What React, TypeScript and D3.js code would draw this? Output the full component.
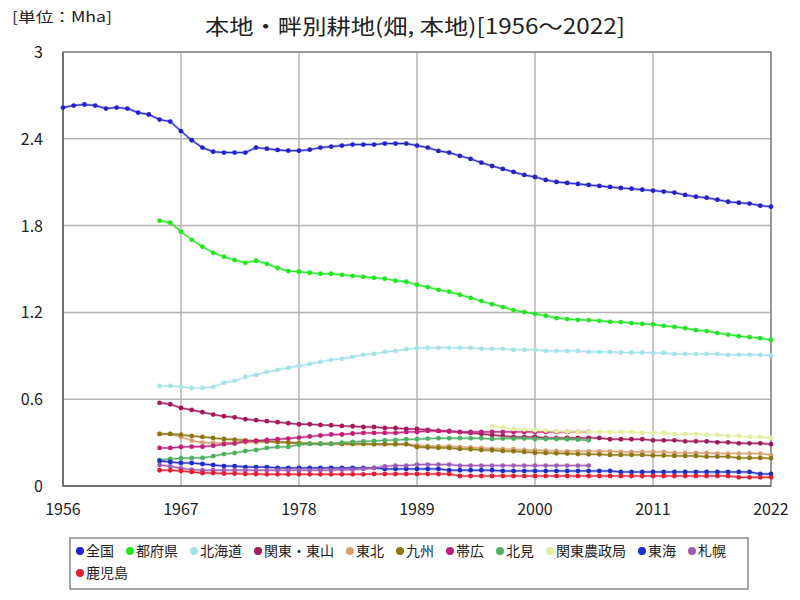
import * as d3 from 'd3';

// values in Mha
const years = d3.range(1956, 2023);

const zenkoku = [2.616, 2.630, 2.637, 2.630, 2.609, 2.616, 2.609, 2.581, 2.568,
  2.533, 2.519, 2.453, 2.390, 2.339, 2.311, 2.305, 2.305, 2.305, 2.339,
  2.332, 2.323, 2.318, 2.318, 2.325, 2.339, 2.346, 2.353, 2.360, 2.360,
  2.360, 2.367, 2.367, 2.367, 2.353, 2.339, 2.316, 2.305, 2.282, 2.261,
  2.235, 2.212, 2.192, 2.171, 2.150, 2.136, 2.116, 2.102, 2.095, 2.088,
  2.081, 2.074, 2.067, 2.060, 2.055, 2.048, 2.042, 2.035, 2.028, 2.012,
  2.000, 1.993, 1.979, 1.965, 1.958, 1.952, 1.938, 1.931];

const tofuken = [1.834, 1.820, 1.758, 1.702, 1.654, 1.612, 1.585, 1.562, 1.543, 1.557,
  1.536, 1.507, 1.486, 1.481, 1.474, 1.467, 1.467, 1.460, 1.453, 1.446,
  1.439, 1.433, 1.419, 1.412, 1.391, 1.375, 1.356, 1.343, 1.322, 1.301,
  1.278, 1.257, 1.237, 1.216, 1.202, 1.190, 1.177, 1.161, 1.154, 1.149,
  1.147, 1.142, 1.135, 1.133, 1.126, 1.121, 1.117, 1.107, 1.100, 1.091,
  1.077, 1.071, 1.057, 1.047, 1.036, 1.029, 1.022, 1.010];

const hokkaido = [0.692, 0.692, 0.685, 0.678, 0.678, 0.685, 0.713, 0.727, 0.754, 0.768,
  0.789, 0.803, 0.817, 0.830, 0.844, 0.858, 0.872, 0.879, 0.893, 0.907,
  0.913, 0.927, 0.934, 0.946, 0.953, 0.955, 0.955, 0.955, 0.955, 0.955,
  0.948, 0.948, 0.948, 0.941, 0.941, 0.941, 0.934, 0.934, 0.934, 0.934,
  0.927, 0.927, 0.927, 0.923, 0.923, 0.923, 0.920, 0.920, 0.913, 0.913,
  0.913, 0.913, 0.913, 0.907, 0.907, 0.907, 0.907, 0.902];

const kantoTozan = [0.575, 0.565, 0.540, 0.526, 0.510, 0.494, 0.482, 0.475, 0.462, 0.455,
  0.448, 0.441, 0.434, 0.427, 0.427, 0.422, 0.420, 0.415, 0.413, 0.408,
  0.408, 0.401, 0.401, 0.394, 0.394, 0.388, 0.381, 0.376, 0.372, 0.367,
  0.360, 0.353, 0.346, 0.339, 0.339, 0.339, 0.332, 0.332, 0.332, 0.332,
  0.332, 0.332, 0.323, 0.323, 0.323, 0.323, 0.316, 0.316, 0.316, 0.309,
  0.309, 0.309, 0.302, 0.302, 0.295, 0.295, 0.295, 0.289];

const tohoku = [0.360, 0.360, 0.339, 0.314, 0.300, 0.298, 0.298, 0.302, 0.302, 0.302,
  0.305, 0.305, 0.300, 0.293, 0.291, 0.291, 0.291, 0.291, 0.291, 0.291,
  0.289, 0.289, 0.289, 0.289, 0.282, 0.277, 0.275, 0.275, 0.270, 0.266,
  0.263, 0.259, 0.256, 0.254, 0.249, 0.247, 0.245, 0.242, 0.240, 0.240,
  0.240, 0.240, 0.240, 0.235, 0.235, 0.235, 0.235, 0.235, 0.228, 0.228,
  0.228, 0.228, 0.224, 0.224, 0.224, 0.224, 0.224, 0.214];

const kyushu = [0.360, 0.360, 0.355, 0.346, 0.339, 0.332, 0.325, 0.321, 0.316, 0.314,
  0.309, 0.305, 0.300, 0.298, 0.293, 0.293, 0.293, 0.291, 0.291, 0.291,
  0.289, 0.289, 0.289, 0.289, 0.270, 0.266, 0.263, 0.263, 0.256, 0.254,
  0.249, 0.247, 0.242, 0.240, 0.235, 0.230, 0.228, 0.226, 0.224, 0.221,
  0.219, 0.219, 0.215, 0.215, 0.215, 0.215, 0.210, 0.210, 0.208, 0.208,
  0.208, 0.203, 0.203, 0.203, 0.194, 0.194, 0.194, 0.192];

const obihiro = [0.263, 0.263, 0.270, 0.272, 0.272, 0.279, 0.289, 0.293, 0.309, 0.311,
  0.318, 0.323, 0.328, 0.335, 0.342, 0.349, 0.356, 0.356, 0.363, 0.367,
  0.367, 0.367, 0.367, 0.374, 0.374, 0.381, 0.381, 0.381, 0.374, 0.374,
  0.374, 0.374, 0.374, 0.374, 0.374, 0.374, 0.374, 0.374, 0.374, 0.374, 0.374];

const kitami = [0.180, 0.187, 0.192, 0.194, 0.194, 0.206, 0.221, 0.228, 0.242, 0.249,
  0.263, 0.270, 0.270, 0.286, 0.291, 0.291, 0.291, 0.300, 0.305, 0.309,
  0.311, 0.316, 0.318, 0.323, 0.323, 0.328, 0.330, 0.330, 0.330, 0.330,
  0.330, 0.325, 0.328, 0.328, 0.328, 0.325, 0.325, 0.325, 0.323, 0.320, 0.316];

const kantoNoseikyoku = [0.413, 0.404, 0.394, 0.390, 0.385, 0.383, 0.378, 0.376, 0.374,
  0.374, 0.374, 0.374, 0.374, 0.374, 0.367, 0.367, 0.367, 0.360, 0.360, 0.360,
  0.355, 0.353, 0.346, 0.346, 0.339, 0.339, 0.332];

const tokai = [0.173, 0.166, 0.159, 0.159, 0.152, 0.145, 0.138, 0.138, 0.131, 0.131,
  0.131, 0.125, 0.125, 0.125, 0.125, 0.125, 0.125, 0.125, 0.125, 0.125,
  0.125, 0.118, 0.118, 0.118, 0.118, 0.118, 0.118, 0.109, 0.109, 0.109,
  0.109, 0.109, 0.104, 0.104, 0.104, 0.104, 0.104, 0.104, 0.104, 0.104,
  0.104, 0.104, 0.104, 0.097, 0.097, 0.097, 0.097, 0.097, 0.097, 0.097,
  0.097, 0.097, 0.097, 0.097, 0.097, 0.097, 0.083, 0.083];

const sapporo = [0.145, 0.136, 0.122, 0.113, 0.109, 0.109, 0.109, 0.109, 0.109, 0.109,
  0.109, 0.109, 0.109, 0.109, 0.109, 0.109, 0.109, 0.113, 0.113, 0.118,
  0.125, 0.136, 0.141, 0.141, 0.148, 0.148, 0.148, 0.148, 0.141, 0.141,
  0.141, 0.141, 0.141, 0.141, 0.141, 0.141, 0.141, 0.141, 0.141, 0.141, 0.141];

const kagoshima = [0.109, 0.109, 0.104, 0.097, 0.090, 0.090, 0.086, 0.086, 0.083, 0.083,
  0.081, 0.081, 0.081, 0.081, 0.081, 0.081, 0.081, 0.081, 0.081, 0.081,
  0.083, 0.083, 0.083, 0.083, 0.083, 0.083, 0.083, 0.083, 0.069, 0.069,
  0.069, 0.069, 0.069, 0.069, 0.069, 0.069, 0.069, 0.069, 0.069, 0.069,
  0.069, 0.069, 0.069, 0.069, 0.069, 0.069, 0.069, 0.069, 0.069, 0.069,
  0.069, 0.069, 0.069, 0.069, 0.060, 0.060, 0.060, 0.060];

const seriesNames = ['全国', '都府県', '北海道', '関東・東山', '東北', '九州', '帯広', '北見', '関東農政局', '東海', '札幌', '鹿児島'];
const seriesStart = [1956, 1965, 1965, 1965, 1965, 1965, 1965, 1965, 1996, 1965, 1965, 1965];
const seriesValues = [zenkoku, tofuken, hokkaido, kantoTozan, tohoku, kyushu, obihiro, kitami, kantoNoseikyoku, tokai, sapporo, kagoshima];
const seriesColors = ['#2323c8', '#22e622', '#a6e2ea', '#a01a5c', '#d8a070', '#8b7610', '#c0207a', '#50b062', '#e2f0a0', '#1c2cc8', '#a05ab2', '#e01e32'];

const yTicks = [0, 0.6, 1.2, 1.8, 2.4, 3];
const xTicks = [1956, 1967, 1978, 1989, 2000, 2011, 2022];

const FONT = '"Noto Sans CJK JP", "Noto Sans", sans-serif';

export default function App() {
  const left = 63, right = 771, top = 52, bottom = 486;

  const x = d3.scaleLinear().domain([years[0], years[years.length - 1]]).range([left, right]);
  const y = d3.scaleLinear().domain([0, 3]).range([bottom, top]);

  const line = d3.line<[number, number]>()
    .x(d => x(d[0]))
    .y(d => y(d[1]));

  const series = seriesNames.map((name, i) => ({
    name,
    color: seriesColors[i],
    points: seriesValues[i].map((v, j) => [seriesStart[i] + j, v] as [number, number]),
  }));

  // legend: first 11 items in one row, the last wraps
  const charW = 14;
  let lx = 80;
  const legendItems = series.map((s, i) => {
    if (i === 11) lx = 80;
    const item = { ...s, cx: lx, cy: i < 11 ? 551 : 573 };
    lx += 6 + s.name.length * charW + 16;
    return item;
  });

  return (
    <svg width={800} height={600} style={{ position: 'absolute', left: 0, top: 0, background: '#fff' }} fontFamily={FONT}>
      <rect x={0} y={0} width={800} height={600} fill="#fff" />
      <text x={12} y={22} fontSize={14} fill="#222" textLength={100} lengthAdjust="spacingAndGlyphs">[単位：Mha]</text>
      <text x={415} y={34} fontSize={21} textAnchor="middle" fill="#222" textLength={420} lengthAdjust="spacingAndGlyphs">本地・畔別耕地(畑, 本地)[1956～2022]</text>

      {/* grid */}
      {yTicks.map(t => (
        <line key={'gy' + t} x1={left} x2={right} y1={y(t)} y2={y(t)} stroke="#b4b4b4" strokeWidth={1.5} />
      ))}
      {xTicks.map(t => (
        <line key={'gx' + t} x1={x(t)} x2={x(t)} y1={top} y2={bottom} stroke="#b4b4b4" strokeWidth={1.5} />
      ))}
      <rect x={left} y={top} width={right - left} height={bottom - top} fill="none" stroke="#8a8a8a" strokeWidth={1.5} />
      <line x1={left} x2={left} y1={top} y2={bottom} stroke="#707070" strokeWidth={2} />
      <line x1={left} x2={right} y1={bottom} y2={bottom} stroke="#707070" strokeWidth={2} />

      {/* axis labels */}
      {yTicks.map(t => (
        <text key={'ty' + t} x={43} y={y(t) + 6} fontSize={16} textAnchor="end" fill="#222">{t}</text>
      ))}
      {xTicks.map(t => (
        <text key={'tx' + t} x={x(t)} y={515} fontSize={16} textAnchor="middle" fill="#222">{t}</text>
      ))}

      {/* series */}
      {series.map(s => (
        <g key={s.name}>
          <path d={line(s.points) || ''} fill="none" stroke={s.color} strokeWidth={2.5} strokeOpacity={0.45} />
          <path d={line(s.points) || ''} fill="none" stroke={s.color} strokeWidth={1} />
          {s.points.map(p => (
            <circle key={p[0]} cx={x(p[0])} cy={y(p[1])} r={2.4} fill={s.color} />
          ))}
        </g>
      ))}

      {/* legend */}
      <rect x={70} y={538} width={678} height={51} fill="#fff" stroke="#8a8a8a" strokeWidth={1.5} />
      {legendItems.map(it => (
        <g key={'lg' + it.name}>
          <circle cx={it.cx} cy={it.cy} r={4} fill={it.color} />
          <text x={it.cx + 6} y={it.cy + 5} fontSize={14} fill="#222">{it.name}</text>
        </g>
      ))}
    </svg>
  );
}
